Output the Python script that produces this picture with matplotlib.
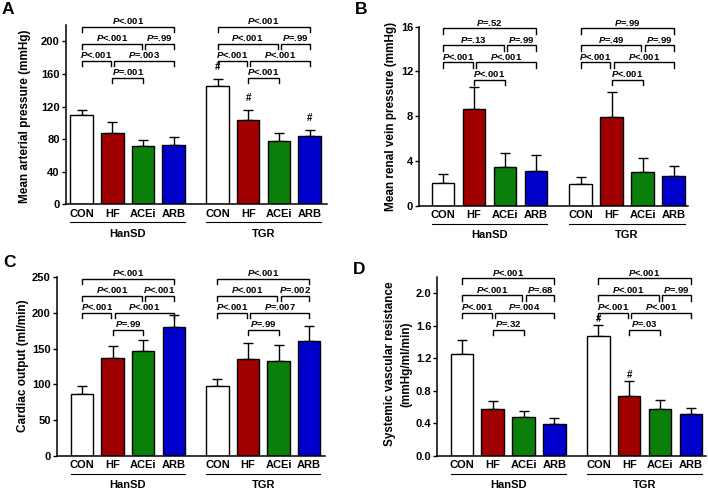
import matplotlib
matplotlib.use("Agg")
import matplotlib.pyplot as plt
import matplotlib.transforms as mtransforms
import numpy as np

plt.rcParams['font.family'] = ['Liberation Sans', 'DejaVu Sans']
plt.rcParams['font.weight'] = 'bold'
plt.rcParams['mathtext.fontset'] = 'custom'
plt.rcParams['mathtext.it'] = 'Liberation Sans:italic:bold'
plt.rcParams['mathtext.rm'] = 'Liberation Sans:bold'

# ---------------- data ----------------
groups = ["HanSD", "TGR"]
treatments = ["CON", "HF", "ACEi", "ARB"]
colors = ["#FFFFFF", "#A00000", "#0A800A", "#0000CC"]

# Panel A: mean arterial pressure (mmHg)
map_mean = [109.5, 87.7, 72.3, 73.5, 145.0, 103.5, 78.0, 83.6]
map_sd = [6.2, 13.0, 7.0, 9.0, 8.3, 12.5, 10.2, 7.8]
map_hash = [False, False, False, False, True, True, False, True]

# Panel B: mean renal vein pressure (mmHg)
rvp_mean = [2.06, 8.64, 3.49, 3.13, 1.97, 7.96, 3.04, 2.62]
rvp_sd = [0.75, 2.0, 1.2, 1.37, 0.56, 2.2, 1.25, 0.9]

# Panel C: cardiac output (ml/min)
co_mean = [86.9, 137.4, 146.7, 181.0, 98.1, 135.0, 132.7, 160.7]
co_sd = [10.8, 16.3, 15.9, 16.0, 9.4, 23.4, 22.4, 21.5]

# Panel D: systemic vascular resistance (mmHg/ml/min)
svr_mean = [1.25, 0.577, 0.474, 0.389, 1.472, 0.732, 0.577, 0.507]
svr_sd = [0.17, 0.09, 0.074, 0.069, 0.14, 0.192, 0.11, 0.082]
svr_hash = [False, False, False, False, True, True, False, False]

# comparisons: (i, j, level)
comparisons = [(0, 3, 3), (0, 2, 2), (2, 3, 2), (0, 1, 1), (1, 3, 1), (1, 2, 0)]
p_map = [["<.001", "<.001", "=.99", "<.001", "=.003", "=.001"],
         ["<.001", "<.001", "=.99", "<.001", "<.001", "<.001"]]
p_rvp = [["=.52", "=.13", "=.99", "<.001", "<.001", "<.001"],
         ["=.99", "=.49", "=.99", "<.001", "<.001", "<.001"]]
p_co = [["<.001", "<.001", "<.001", "<.001", "<.001", "=.99"],
        ["<.001", "<.001", "=.002", "<.001", "=.007", "=.99"]]
p_svr = [["<.001", "<.001", "=.68", "<.001", "=.004", "=.32"],
         ["<.001", "<.001", "=.99", "<.001", "<.001", "=.03"]]

# ---------------- layout ----------------
W, H = 708, 490
fig = plt.figure(figsize=(W / 100, H / 100), dpi=100)

group_offset = 4.43
xpos = np.array([0, 1, 2, 3, group_offset, group_offset + 1, group_offset + 2, group_offset + 3])
bar_w = 0.73


def box(l, r, t, b):
    return [l / W, 1 - b / H, (r - l) / W, (b - t) / H]


levels = [0.705, 0.80, 0.895, 0.99]
drop = 0.028


def panel(rect, xlim, mean, sd, ylim, yticks, yticklabels, pvals, hashes=None, hash_off=4):
    ax = fig.add_axes(rect)
    ax.bar(xpos, mean, width=bar_w, color=colors * 2, edgecolor="black", linewidth=1.0, zorder=2)
    ax.errorbar(xpos, mean, yerr=[np.zeros(len(sd)), sd], fmt="none", ecolor="black",
                elinewidth=1.0, capsize=3.8, capthick=1.0, zorder=1)
    ax.set_xlim(*xlim)
    ax.set_ylim(*ylim)
    ax.set_yticks(yticks)
    ax.set_yticklabels(yticklabels, fontsize=8, fontweight="bold")
    ax.set_xticks(xpos)
    ax.set_xticklabels(treatments * 2, fontsize=8, fontweight="bold")
    ax.tick_params(axis="x", length=0, pad=3)
    ax.tick_params(axis="y", length=3, width=1.0, pad=1.2)
    for s in ["top", "right"]:
        ax.spines[s].set_visible(False)
    for s in ["left", "bottom"]:
        ax.spines[s].set_linewidth(1.1)
    trans = mtransforms.blended_transform_factory(ax.transData, ax.transAxes)
    # group lines and labels
    for g in range(2):
        x0 = xpos[4 * g] - bar_w / 2
        x1 = xpos[4 * g + 3] + bar_w / 2
        ax.plot([x0, x1], [-0.10, -0.10], color="black", lw=0.8, transform=trans, clip_on=False)
        ax.text((x0 + x1) / 2, -0.162, groups[g], transform=trans, ha="center", va="center",
                fontsize=8, fontweight="bold")
    # brackets
    for g in range(2):
        base = 4 * g
        for k, (i, j, lev) in enumerate(comparisons):
            xa = xpos[base + i]
            xb = xpos[base + j]
            # avoid overlapping ends on shared points
            if (i, j) in [(0, 1), (0, 2)]:
                xb -= 0.04
            if (i, j) in [(1, 3), (2, 3)]:
                xa += 0.07
            y = levels[lev]
            ax.plot([xa, xa, xb, xb], [y - drop, y, y, y - drop], color="black", lw=1.0,
                    transform=trans, clip_on=False, solid_joinstyle="miter")
            ax.annotate("$P$" + pvals[g][k], xy=((xa + xb) / 2, y), xycoords=trans,
                        xytext=(0, 0.6), textcoords="offset points", ha="center", va="bottom",
                        fontsize=6.8, fontweight="bold", annotation_clip=False)
    if hashes is not None:
        for xi, m, s, h in zip(xpos, mean, sd, hashes):
            if h:
                ax.annotate("#", xy=(xi, m + s), xytext=(0, hash_off), textcoords="offset points",
                            ha="center", va="bottom", fontsize=7, fontweight="bold")
    return ax


axA = panel(box(65.7, 327, 25, 204.5), (-0.52, 8.0), map_mean, map_sd, (0, 220),
            [0, 40, 80, 120, 160, 200], ["0", "40", "80", "120", "160", "200"], p_map,
            map_hash, hash_off=5)
axB = panel(box(419, 688, 26.7, 205.7), (-0.77, 7.89), rvp_mean, rvp_sd, (0, 16),
            [0, 4, 8, 12, 16], ["0", "4", "8", "12", "16"], p_rvp)
axC = panel(box(56.7, 325, 277.3, 455.7), (-0.83, 7.95), co_mean, co_sd, (0, 250),
            [0, 50, 100, 150, 200, 250], ["0", "50", "100", "150", "200", "250"], p_co)
axD = panel(box(437.3, 706.5, 276.7, 455.7), (-0.80, 7.94), svr_mean, svr_sd, (0, 2.2),
            [0, 0.4, 0.8, 1.2, 1.6, 2.0], ["0.0", "0.4", "0.8", "1.2", "1.6", "2.0"], p_svr,
            svr_hash, hash_off=0.3)

# y labels
fig.text(25 / W, 1 - 116 / H, "Mean arterial pressure (mmHg)", rotation=90, ha="center",
         va="center", fontsize=8.5, fontweight="bold")
fig.text(391 / W, 1 - 116 / H, "Mean renal vein pressure (mmHg)", rotation=90, ha="center",
         va="center", fontsize=8.5, fontweight="bold")
fig.text(23 / W, 1 - 366 / H, "Cardiac output (ml/min)", rotation=90, ha="center",
         va="center", fontsize=8.5, fontweight="bold")
fig.text(398 / W, 1 - 364 / H, "Systemic vascular resistance\n(mmHg/ml/min)", rotation=90,
         ha="center", va="center", fontsize=8.5, fontweight="bold", linespacing=1.45,
         multialignment="center")

# panel letters
for letter, (px, py) in zip("ABCD", [(2, 2), (355, 2), (3, 255), (353, 262)]):
    fig.text(px / W, 1 - py / H, letter, ha="left", va="top", fontsize=12.5, fontweight="bold")

fig.savefig("out.png", dpi=100)
